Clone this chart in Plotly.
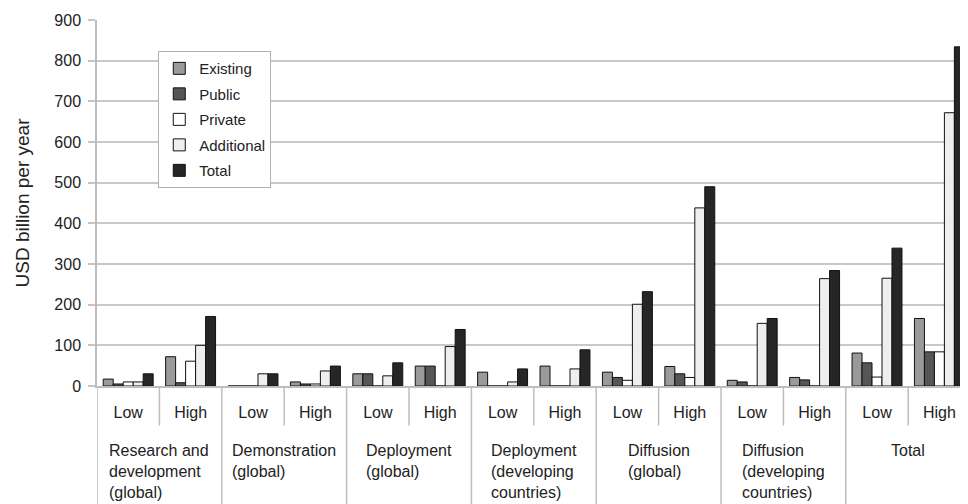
import plotly.graph_objects as go

categories = ["Research and<br>development<br>(global)", "Demonstration<br>(global)",
              "Deployment<br>(global)", "Deployment<br>(developing<br>countries)",
              "Diffusion<br>(global)", "Diffusion<br>(developing<br>countries)", "Total"]
levels = ["Low", "High"]

series_names = ["Existing", "Public", "Private", "Additional", "Total"]
existing   = [17, 72, 0, 10, 30, 49, 34, 49, 34, 48, 14, 21, 81, 166]
public     = [5, 8, 0, 5, 30, 49, 0, 0, 21, 30, 10, 15, 57, 84]
private    = [10, 61, 0, 5, 0, 0, 0, 0, 14, 21, 0, 0, 22, 84]
additional = [10, 100, 30, 37, 25, 97, 10, 42, 201, 438, 154, 264, 265, 672]
total      = [30, 171, 30, 49, 57, 139, 42, 89, 232, 490, 166, 284, 339, 834]
y_ticks = [0, 100, 200, 300, 400, 500, 600, 700, 800, 900]

colors = ["#9a9a9a", "#565656", "#ffffff", "#eeeeee", "#262626"]
values = [existing, public, private, additional, total]

n = len(categories) * len(levels)
xs = list(range(n))
tick_text = [lv for _ in categories for lv in levels]

fig = go.Figure()
for name, vals, col in zip(series_names, values, colors):
    fig.add_trace(go.Bar(
        x=xs, y=vals, name=name, legendgroup=name,
        marker=dict(color=col, line=dict(color="#111111", width=1)),
    ))

font = "Liberation Sans, Arial, sans-serif"
shapes = []
for i in range(len(categories) + 1):
    xv = -0.5 + 2 * i
    shapes.append(dict(type="line", xref="x", yref="paper", x0=xv, x1=xv,
                       y0=0, y1=-0.36, line=dict(color="#bdbdbd", width=1.5)))
for i in range(len(categories)):
    xv = 0.5 + 2 * i
    shapes.append(dict(type="line", xref="x", yref="paper", x0=xv, x1=xv,
                       y0=0, y1=-0.108, line=dict(color="#bdbdbd", width=1.5)))

annotations = []
for i, c in enumerate(categories):
    annotations.append(dict(
        x=0.5 + 2 * i, xref="x", y=-0.148, yref="paper", text=c,
        showarrow=False, xanchor="center", yanchor="top", align="left",
        font=dict(family=font, size=16, color="#222222")))

fig.update_layout(
    width=952, height=504,
    margin=dict(l=89, r=0, t=12, b=126),
    plot_bgcolor="white", paper_bgcolor="white",
    bargap=0.2, bargroupgap=0,
    barmode="group",
    shapes=shapes, annotations=annotations,
    legend=dict(x=0.071, y=0.915, xanchor="left", yanchor="top",
                bgcolor="white", bordercolor="#b0b0b0", borderwidth=1,
                font=dict(family=font, size=15, color="#222222"),
                itemwidth=30, tracegroupgap=3, traceorder="grouped"),
    font=dict(family=font, color="#222222"),
)
fig.update_xaxes(
    range=[-0.5, 13.33], tickvals=xs, ticktext=tick_text, ticks="",
    tickfont=dict(family=font, size=16, color="#222222"),
    showgrid=False, zeroline=False, showline=True, linecolor="#bdbdbd", linewidth=1.5,
    ticklabelstandoff=11, automargin=False,
)
fig.update_yaxes(
    range=[0, 900], tickvals=y_ticks, ticks="outside", ticklen=7, tickcolor="#c4c4c4",
    tickwidth=1.5,
    tickfont=dict(family=font, size=16, color="#222222"),
    showgrid=True, gridcolor="#c8c8c8", gridwidth=1.5, zeroline=False,
    showline=True, linecolor="#bdbdbd", linewidth=1.5,
    title=dict(text="USD billion per year", font=dict(family=font, size=19, color="#222222"),
               standoff=20),
    ticklabelstandoff=4, automargin=False,
)

fig.write_html("out.html")
